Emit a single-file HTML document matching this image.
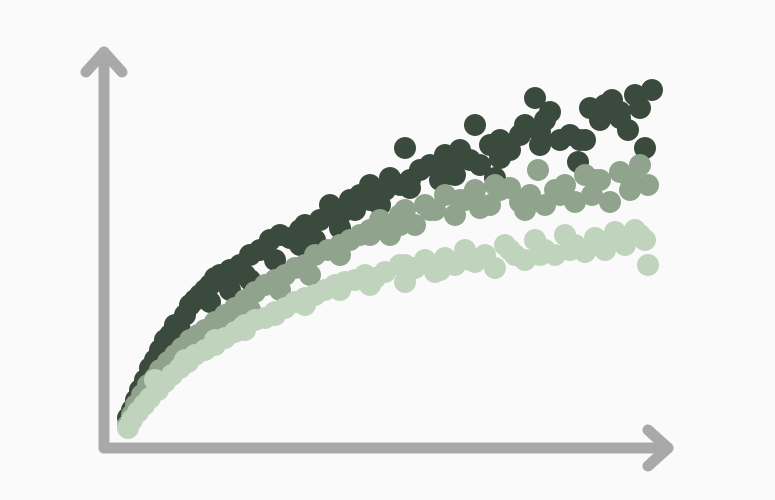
<!DOCTYPE html>
<html><head><meta charset="utf-8"><style>
html,body{margin:0;padding:0;background:#fafafa;}
svg{display:block;}
</style></head><body>
<svg id="chart" width="775" height="500" viewBox="0 0 775 500">
<rect width="775" height="500" fill="#fafafa"/>
<g id="points"></g>
<g stroke="#a9a9a9" stroke-width="11" fill="none" stroke-linecap="round" stroke-linejoin="round">
<line x1="104" y1="448" x2="104" y2="52"/>
<polyline points="86,72 104,52 122,72"/>
<line x1="104" y1="448" x2="668" y2="448"/>
<polyline points="648,430 668,448 648,466"/>
</g>
</svg>
<script>
const darkX=[28,32,36,40,45,50,55,60,65,70,75,80,85,90,95,100,105,110,115,120,125,130,140,145,150,160,170,180,190,200,205,215,220,230,240,250,255,260,270,280,285,290,300,305,310,320,330,340,345,355,360,370,375,380,390,395,400,410,420,425,435,440,445,450,460,470,478,485,490,500,505,512,520,528,535,540,545,552,60,80,110,130,150,175,200,240,270,310,350,400,440,480,520];
const darkY=[32,40,50,60,70,82,90,100,110,115,125,120,135,145,150,155,160,165,172,175,168,180,185,175,195,200,210,215,212,220,225,210,230,245,235,250,240,255,265,245,260,272,265,302,270,280,285,270,295,275,300,290,325,285,305,272,310,300,315,325,352,305,330,338,310,315,288,310,342,330,345,350,338,320,355,342,302,360,92,112,148,160,170,190,205,222,250,262,285,292,318,310,332];
const midX=[28,32,36,42,48,55,60,68,75,82,90,98,105,115,125,135,145,155,165,175,185,195,205,215,228,240,250,260,270,280,290,300,305,315,325,335,345,355,365,375,380,390,400,410,420,430,438,445,455,465,475,485,492,500,510,520,530,540,548,50,70,95,120,150,180,210,240,270,300,330,360,395,425,460,495,530];
const midY=[25,35,45,55,65,72,80,88,95,102,110,115,120,128,135,142,150,158,165,170,175,182,185,195,200,205,210,215,220,230,215,235,240,225,245,240,255,235,250,260,242,245,260,262,248,255,280,245,260,265,248,275,255,270,248,278,260,285,265,62,85,100,118,140,160,175,195,215,225,240,250,265,240,255,270,272];
const lightX=[28,32,38,44,50,58,65,72,80,88,95,105,115,125,135,145,155,165,175,185,195,205,215,225,235,245,255,265,275,285,300,305,315,325,335,345,355,365,375,385,395,405,415,425,435,445,455,465,475,485,495,505,515,525,535,545,548,55,85,115,145,175,205,240,270,305,340,370,410,440,470,510,540];
const lightY=[22,30,38,45,52,60,68,75,82,88,95,100,105,112,118,125,130,132,138,142,148,152,155,160,165,168,170,175,172,178,185,168,182,190,178,192,185,200,188,195,182,205,195,190,210,200,195,215,205,198,212,200,218,205,220,210,185,70,90,110,120,135,145,160,165,185,180,190,200,195,200,210,215];
function sx(v){return 100+v;}
function sy(v){return 450-v;}
const g=document.getElementById('points');
const NS='http://www.w3.org/2000/svg';
function draw(xs,ys,color,name){
  const grp=document.createElementNS(NS,'g');
  
  
  g.appendChild(grp);
  for(let i=0;i<xs.length;i++){
    const c=document.createElementNS(NS,'circle');
    c.setAttribute('cx',sx(xs[i]));
    c.setAttribute('cy',sy(ys[i]));
    c.setAttribute('r',11);
    c.setAttribute('fill',color);
    
    
    grp.appendChild(c);
  }
}
draw(darkX,darkY,'#3a4a3c','dark');
draw(midX,midY,'#8fa38d','mid');
draw(lightX,lightY,'#c0d4bd','light');
</script>
</body></html>
